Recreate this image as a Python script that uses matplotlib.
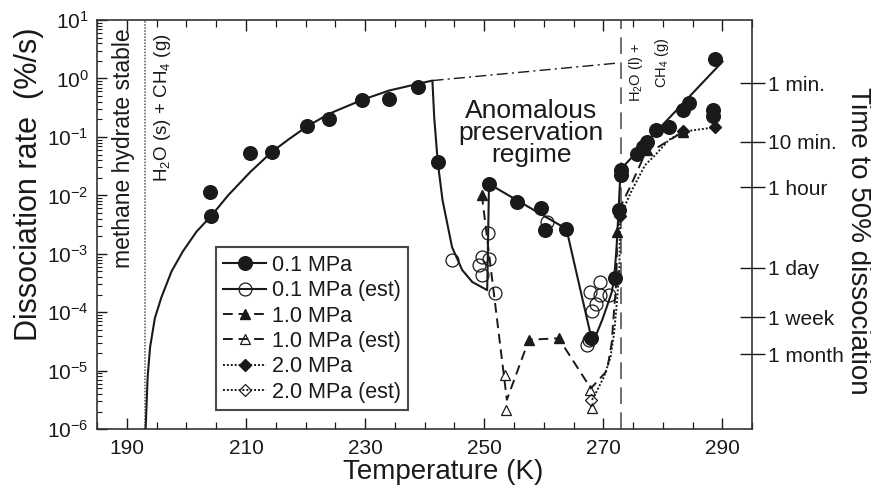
import matplotlib
matplotlib.use("Agg")
import matplotlib.pyplot as plt
from matplotlib.lines import Line2D
from matplotlib.ticker import MultipleLocator, NullLocator, LogLocator, FixedLocator

plt.rcParams['font.family'] = ['Liberation Sans', 'DejaVu Sans']
plt.rcParams['mathtext.fontset'] = 'custom'
plt.rcParams['mathtext.rm'] = 'Liberation Sans'
plt.rcParams['mathtext.it'] = 'Liberation Sans:italic'
plt.rcParams['mathtext.bf'] = 'Liberation Sans:bold'

# ---------------- data ----------------
# 0.1 MPa measured
t01 = [204.0, 204.2, 210.7, 214.3, 220.2, 223.9, 229.5, 234.0, 238.9, 242.2,
       250.8, 255.5, 259.5, 260.2, 263.8, 268.0, 272.0, 272.7, 272.9, 272.9,
       275.7, 276.6, 277.4, 278.8, 281.0, 283.4, 284.4, 288.4, 288.4, 288.7]
r01 = [0.0114, 0.0044, 0.0525, 0.0546, 0.154, 0.205, 0.43, 0.445, 0.72, 0.0368,
       0.0157, 0.0078, 0.0060, 0.0026, 0.00267, 3.6e-5, 3.8e-4, 0.0056, 0.027, 0.022,
       0.052, 0.068, 0.083, 0.13, 0.146, 0.29, 0.376, 0.29, 0.228, 2.13]
# 0.1 MPa estimated
t01e = [244.6, 249.2, 249.6, 249.7, 250.6, 250.8, 251.8, 260.6,
        269.5, 267.8, 269.5, 270.9, 268.7, 268.1, 267.3, 267.6]
r01e = [7.8e-4, 6.4e-4, 4.4e-4, 8.7e-4, 2.25e-3, 8.1e-4, 2.1e-4, 3.5e-3,
        3.3e-4, 2.2e-4, 2.0e-4, 2.0e-4, 1.4e-4, 1.07e-4, 2.8e-5, 3.4e-5]
# 1.0 MPa measured / estimated
t10 = [249.6, 257.5, 262.5, 272.3, 277.3, 283.4]
r10 = [0.0102, 3.4e-5, 3.6e-5, 0.0024, 0.060, 0.123]
t10e = [253.5, 253.7, 267.8, 268.1]
r10e = [8.5e-6, 2.1e-6, 4.7e-6, 2.3e-6]
# 2.0 MPa measured / estimated
t20 = [272.8, 283.4, 288.7]
r20 = [0.0044, 0.126, 0.146]
t20e = [268.0]
r20e = [3.2e-6]

# connecting / fit lines
fit01_t = [193.15, 193.2, 193.5, 193.9, 194.7, 195.8, 197.5, 199.4, 201.7, 204.2,
           207.0, 210.7, 214.3, 217.3, 220.2, 224.0, 229.5, 234.0, 238.9, 241.3,
           241.6, 242.2, 243.0, 244.6, 246.3, 248.0, 250.5, 250.8, 263.8, 268.0,
           268.9, 269.8, 270.6, 271.4, 271.8, 272.2, 272.5, 272.9, 290.0]
fit01_r = [1.0e-6, 1.3e-6, 7.9e-6, 2.5e-5, 7.9e-5, 1.8e-4, 5.0e-4, 1.1e-3, 2.4e-3, 4.5e-3,
           0.010, 0.025, 0.055, 0.093, 0.15, 0.25, 0.43, 0.62, 0.81, 0.92,
           0.22, 0.037, 0.0083, 0.0013, 5.3e-4, 3.3e-4, 2.4e-4, 0.0157, 0.00267, 3.6e-5,
           4.4e-5, 7.4e-5, 1.26e-4, 2.2e-4, 3.7e-4, 1.2e-3, 4.4e-3, 0.028, 1.94]
extrap_t = [241.3, 272.3]
extrap_r = [0.92, 1.83]
line10_t = [249.6, 253.8, 257.5, 262.5, 267.9, 270.6, 271.4, 271.8, 272.2, 272.3,
            272.9, 274.5, 277.3, 279.3, 283.4]
line10_r = [0.0102, 3.2e-6, 3.4e-5, 3.6e-5, 5.0e-6, 1.0e-5, 3.0e-5, 1.1e-4, 3.5e-4, 2.4e-3,
            6.5e-3, 0.014, 0.060, 0.068, 0.123]
line20_t = [268.1, 268.7, 270.1, 271.2, 271.8, 272.3, 272.7, 272.8, 274.8, 277.0,
            278.7, 281.0, 283.4, 288.7]
line20_r = [3.2e-6, 4.1e-6, 7.9e-6, 1.7e-5, 4.4e-5, 1.6e-4, 6.0e-4, 0.0044, 0.0123, 0.033,
            0.049, 0.089, 0.123, 0.146]

T_low = 193.1     # methane hydrate stability limit
T_melt = 273.0    # ice melting

time_labels = ['1 min.', '10 min.', '1 hour', '1 day', '1 week', '1 month']
time_seconds = [60, 600, 3600, 86400, 604800, 2592000]

legend_labels = ['0.1 MPa', '0.1 MPa (est)', '1.0 MPa', '1.0 MPa (est)', '2.0 MPa', '2.0 MPa (est)']

# ---------------- figure ----------------
ink = '#1a1a1a'
fig = plt.figure(figsize=(8.71, 4.91), dpi=100)
ax = fig.add_axes([0.1114, 0.1257, 0.7523, 0.8336])

solid = dict(color=ink, lw=1.5, ls='-')
dashed = dict(color=ink, lw=1.4, ls=(0, (5, 3)))
dotted = dict(color=ink, lw=1.4, ls=(0, (1, 1)))

ax.plot(fit01_t, fit01_r, **solid, zorder=3)
ax.plot(extrap_t, extrap_r, color=ink, lw=1.0, ls=(0, (8, 3, 1.5, 3)), zorder=3)
ax.plot(line10_t, line10_r, **dashed, zorder=3)
ax.plot(line20_t, line20_r, **dotted, zorder=3)

ax.axvline(T_low, color='#555555', lw=1.1, ls=(0, (1, 1)), zorder=1)
ax.axvline(T_melt, color='#555555', lw=1.2, ls=(0, (10, 5)), zorder=1)

mk_fc = dict(color=ink, ls='none', marker='o', ms=9.8)
mk_oc = dict(ls='none', marker='o', ms=9.3, mfc='none', mec=ink, mew=0.9)
mk_ft = dict(color=ink, ls='none', marker='^', ms=7)
mk_ot = dict(ls='none', marker='^', ms=7.5, mfc='none', mec=ink, mew=0.9)
mk_fd = dict(color=ink, ls='none', marker='D', ms=6)
mk_od = dict(ls='none', marker='D', ms=6.5, mfc='none', mec=ink, mew=0.9)

ax.plot(t01e, r01e, **mk_oc, zorder=4)
ax.plot(t10e, r10e, **mk_ot, zorder=4)
ax.plot(t20e, r20e, **mk_od, zorder=4)
ax.plot(t01, r01, **mk_fc, zorder=5)
ax.plot(t10, r10, **mk_ft, zorder=5)
ax.plot(t20, r20, **mk_fd, zorder=5)

ax.set_yscale('log')
ax.set_xlim(185, 295)
ax.set_ylim(1e-6, 10)
ax.xaxis.set_major_locator(FixedLocator([190, 210, 230, 250, 270, 290]))
ax.xaxis.set_minor_locator(MultipleLocator(5))
ax.yaxis.set_major_locator(LogLocator(base=10, numticks=20))
ax.yaxis.set_minor_locator(LogLocator(base=10, subs=range(2, 10), numticks=20))
ax.tick_params(axis='both', which='both', direction='in', colors=ink, labelsize=15)
ax.tick_params(axis='x', which='both', top=True, bottom=True)
ax.tick_params(axis='x', which='major', length=8, width=1.0, pad=7)
ax.tick_params(axis='x', which='minor', length=5, width=0.9)
ax.tick_params(axis='y', which='major', length=7, width=1.0, pad=6, right=False)
ax.tick_params(axis='y', which='minor', length=3.5, width=0.8, right=False)
for sp in ax.spines.values():
    sp.set_color('#333333')
    sp.set_linewidth(1.2)

# right axis: time to 50% dissociation
ax2 = ax.twinx()
ax2.set_yscale('log')
ax2.set_ylim(ax.get_ylim())
ax2.set_yticks([50.0 / s for s in time_seconds])
ax2.set_yticklabels(time_labels)
ax2.yaxis.set_minor_locator(NullLocator())
ax2.tick_params(axis='y', direction='inout', length=18, width=1.0, labelsize=15, colors=ink, pad=2)
for sp in ax2.spines.values():
    sp.set_visible(False)

# annotations
ax.text(189.5, 7.3, 'methane hydrate stable', rotation=90, ha='center', va='top',
        fontsize=16.5, color=ink)
ax.text(196.0, 6.0, r'H$_2$O (s) + CH$_4$ (g)', rotation=90, ha='center', va='top',
        fontsize=13.5, color=ink)
ax.text(275.4, 4.05, r'H$_2$O (l) +', rotation=90, ha='center', va='top',
        fontsize=10.5, color=ink)
ax.text(279.9, 4.9, r'CH$_4$ (g)', rotation=90, ha='center', va='top',
        fontsize=10.5, color=ink)
ax.text(257.9, 0.115, 'Anomalous\npreservation\nregime', ha='center', va='center',
        fontsize=19, color=ink, linespacing=0.9, multialignment='center')

# legend
handles = [
    Line2D([], [], **solid, marker='o', ms=9.8, mfc=ink, mec=ink),
    Line2D([], [], **solid, marker='o', ms=9.3, mfc='none', mec=ink, mew=0.9),
    Line2D([], [], **dashed, marker='^', ms=7, mfc=ink, mec=ink),
    Line2D([], [], **dashed, marker='^', ms=7.5, mfc='none', mec=ink, mew=0.9),
    Line2D([], [], **dotted, marker='D', ms=6, mfc=ink, mec=ink),
    Line2D([], [], **dotted, marker='D', ms=6.5, mfc='none', mec=ink, mew=0.9),
]
leg = ax.legend(handles, legend_labels, loc='lower left', bbox_to_anchor=(0.181, 0.047),
                borderaxespad=0, fontsize=15.5, handlelength=2.0, handletextpad=0.25,
                labelspacing=0.2, borderpad=0.35, fancybox=False, frameon=True)
leg.get_frame().set_edgecolor(ink)
leg.get_frame().set_linewidth(1.5)
for t in leg.get_texts():
    t.set_color(ink)

# axis labels
fig.text(0.0333, 0.6253, 'Dissociation rate  (%/s)', rotation=90, ha='center', va='center',
         fontsize=22, color=ink)
fig.text(0.985, 0.509, 'Time to 50% dissociation', rotation=270, ha='center', va='center',
         fontsize=20, color=ink)
fig.text(0.5086, 0.038, 'Temperature (K)', ha='center', va='center', fontsize=20, color=ink)

fig.savefig('out.png', dpi=100)
